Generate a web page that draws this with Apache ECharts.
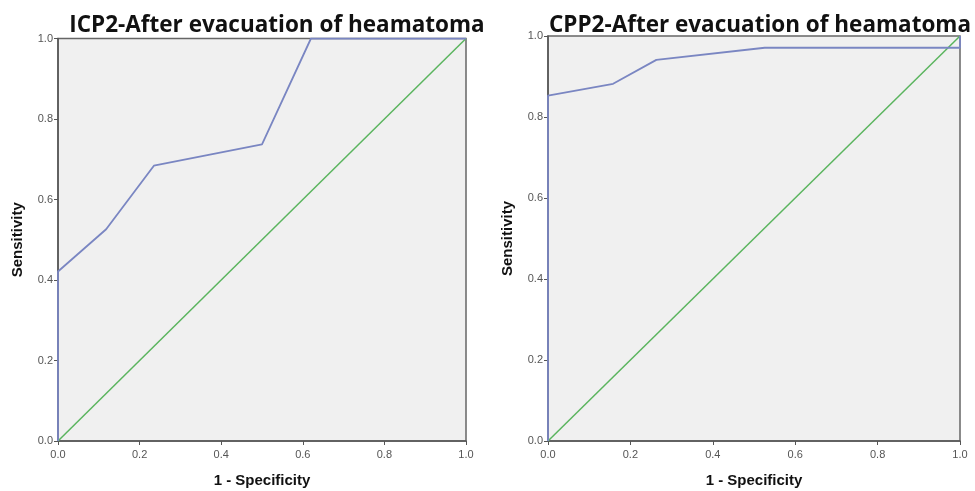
<!DOCTYPE html>
<html lang="en">
<head>
    <meta charset="UTF-8">
    <title>ROC curves</title>
    <script src="https://cdn.jsdelivr.net/npm/echarts@6/dist/echarts.min.js"></script>
    <style>
        html, body { margin: 0; padding: 0; background: #fff; }
        #chart { width: 975px; height: 491px; }
    </style>
</head>
<body>
    <div id="chart"></div>
    <script>
    // ROC points
    var icpFpr = [0, 0, 0.118, 0.235, 0.5, 0.62, 1];
    var icpTpr = [0, 0.421, 0.526, 0.684, 0.737, 1, 1];
    var cppFpr = [0, 0, 0.158, 0.263, 0.526, 1, 1];
    var cppTpr = [0, 0.853, 0.882, 0.941, 0.971, 0.971, 1];
    var refX = [0, 1];
    var refY = [0, 1];
    var titles = ['ICP2-After evacuation of heamatoma', 'CPP2-After evacuation of heamatoma'];

    function pairs(xs, ys) {
        var out = [];
        for (var i = 0; i < xs.length; i++) out.push([xs[i], ys[i]]);
        return out;
    }

    function axis(idx, name, isY) {
        return {
            type: 'value', gridIndex: idx, min: 0, max: 1, interval: 0.2,
            name: name, nameLocation: 'middle', nameGap: isY ? 33 : 32,
            nameTextStyle: { fontFamily: 'Liberation Sans', fontWeight: 'bold', fontSize: 15, color: '#111' },
            axisLine: { show: true, lineStyle: { color: '#555', width: 1.5 } },
            axisTick: { show: true, length: 4, lineStyle: { color: '#555' } },
            axisLabel: {
                fontFamily: 'Liberation Sans', fontSize: 11, color: '#555', margin: isY ? 5 : 8,
                formatter: function (v) { return v.toFixed(1); }
            },
            splitLine: { show: false }
        };
    }

    var chart = echarts.init(document.getElementById('chart'));
    var grids = [
        { left: 58, top: 38.5, width: 408, height: 402.5 },
        { left: 548, top: 36, width: 412, height: 405 }
    ];
    var titleCenters = [272, 755];
    var option = {
        animation: false,
        title: grids.map(function (g, i) {
            return {
                text: titles[i], left: titleCenters[i], top: 9, textAlign: 'center',
                textStyle: { fontFamily: 'Open Sans', fontWeight: 'bold', fontSize: 22.5, color: '#111' }
            };
        }),
        grid: grids.map(function (g) {
            return Object.assign({ show: true, backgroundColor: '#f0f0f0', borderColor: '#666', borderWidth: 1.5,
                outerBoundsMode: 'none', containLabel: false }, g);
        }),
        xAxis: [axis(0, '1 - Specificity', false), axis(1, '1 - Specificity', false)],
        yAxis: [axis(0, 'Sensitivity', true), axis(1, 'Sensitivity', true)],
        series: [
            { type: 'line', xAxisIndex: 0, yAxisIndex: 0, data: pairs(refX, refY), showSymbol: false,
              lineStyle: { color: '#5ab45e', width: 1.5 } },
            { type: 'line', xAxisIndex: 0, yAxisIndex: 0, data: pairs(icpFpr, icpTpr), showSymbol: false,
              lineStyle: { color: '#7a86c2', width: 1.8 } },
            { type: 'line', xAxisIndex: 1, yAxisIndex: 1, data: pairs(refX, refY), showSymbol: false,
              lineStyle: { color: '#5ab45e', width: 1.5 } },
            { type: 'line', xAxisIndex: 1, yAxisIndex: 1, data: pairs(cppFpr, cppTpr), showSymbol: false,
              lineStyle: { color: '#7a86c2', width: 1.8 } }
        ]
    };
    chart.setOption(option);
    </script>
</body>
</html>
